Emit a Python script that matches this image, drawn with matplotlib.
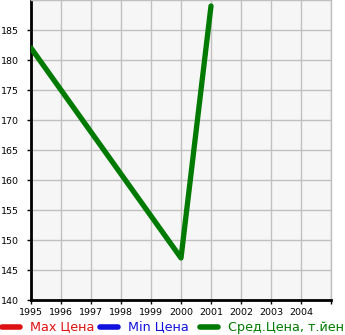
import matplotlib
matplotlib.use("Agg")
import matplotlib.pyplot as plt
from matplotlib.lines import Line2D

years = [1995, 2000, 2001]
avg_price = [182, 147, 189]
xticks = list(range(1995, 2006))
xlabels = [str(y) for y in range(1995, 2005)] + [""]
yticks = list(range(140, 190, 5))

fig = plt.figure(figsize=(3.45, 3.35), dpi=100)
ax = fig.add_axes([31/345, 35/335, 300/345, 300/335])
ax.set_facecolor("#f6f6f6")
ax.plot(years, avg_price, color="#007a00", lw=3.8, solid_capstyle="round", zorder=3)

ax.set_xlim(1995, 2005)
ax.set_ylim(140, 190)
ax.set_xticks(xticks)
ax.set_xticklabels(xlabels, fontsize=6.8)
ax.set_yticks(yticks)
ax.set_yticklabels([str(v) for v in yticks], fontsize=6.8)
ax.grid(True, color="#c0c0c0", lw=1)
ax.set_axisbelow(True)
ax.tick_params(length=3, width=1)
ax.tick_params(axis="y", pad=6)
ax.tick_params(axis="x", pad=3)
for s in ["top", "right"]:
    ax.spines[s].set_color("#c0c0c0")
    ax.spines[s].set_linewidth(1)
for s in ["left", "bottom"]:
    ax.spines[s].set_color("black")
    ax.spines[s].set_linewidth(2)

# legend
items = [("Max Цена", "#dd1111", 0), ("Min Цена", "#1111dd", 98), ("Сред.Цена, т.йен", "#007a00", 198)]
yl = 8 / 335
for name, c, x0 in items:
    fig.add_artist(Line2D([(x0 + 2) / 345, (x0 + 20) / 345], [yl, yl], color=c, lw=4,
                          solid_capstyle="round", transform=fig.transFigure))
    fig.text((x0 + 30) / 345, yl, name, color=c, fontsize=9.2, va="center", ha="left")

fig.savefig("out.png", dpi=100)
